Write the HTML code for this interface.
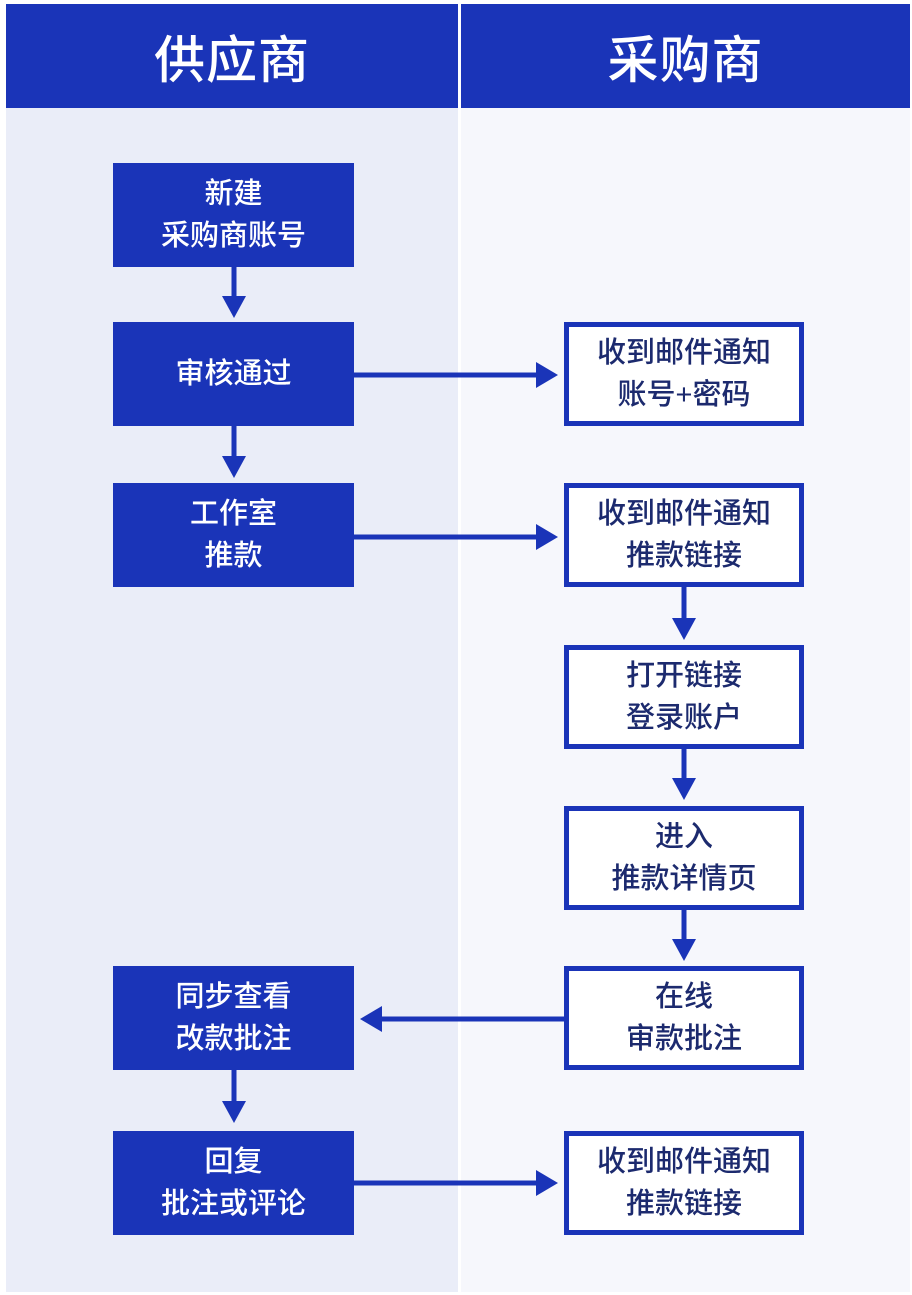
<!DOCTYPE html>
<html><head><meta charset="utf-8"><style>
body{margin:0;width:912px;height:1295px;background:#fff;position:relative;overflow:hidden;font-family:"Liberation Sans","Noto Sans CJK SC",sans-serif}
.a{position:absolute}
.hd{background:#1a34b8;color:#fff;font-size:51px;font-weight:500;display:flex;align-items:center;justify-content:center;letter-spacing:1px}
.b{position:absolute;box-sizing:border-box;display:flex;flex-direction:column;align-items:center;justify-content:center;font-size:29px;line-height:42px;font-weight:500}
.l{left:113px;width:241px;background:#1a34b8;color:#fff}
.r{left:564px;width:240px;background:#fff;border:5px solid #1a34b8;color:#1c2a6e}
</style></head><body>
<div class="a" style="left:6px;top:108px;width:452px;height:1184px;background:#eaedf8"></div>
<div class="a" style="left:461px;top:108px;width:449px;height:1184px;background:#f6f7fc"></div>
<div class="a hd" style="left:6px;top:4px;width:452px;height:104px">供应商</div>
<div class="a hd" style="left:461px;top:4px;width:449px;height:104px">采购商</div>

<div class="b l" style="top:163px;height:104px">新建<span>采购商账号</span></div>
<div class="b l" style="top:322px;height:104px">审核通过</div>
<div class="b l" style="top:483px;height:104px">工作室<span>推款</span></div>
<div class="b l" style="top:966px;height:104px">同步查看<span>改款批注</span></div>
<div class="b l" style="top:1131px;height:104px">回复<span>批注或评论</span></div>

<div class="b r" style="top:322px;height:104px">收到邮件通知<span>账号+密码</span></div>
<div class="b r" style="top:483px;height:104px">收到邮件通知<span>推款链接</span></div>
<div class="b r" style="top:645px;height:104px">打开链接<span>登录账户</span></div>
<div class="b r" style="top:806px;height:104px">进入<span>推款详情页</span></div>
<div class="b r" style="top:966px;height:104px">在线<span>审款批注</span></div>
<div class="b r" style="top:1131px;height:104px">收到邮件通知<span>推款链接</span></div>

<svg class="a" style="left:0;top:0" width="912" height="1295">
<g fill="#1a34b8" stroke="#1a34b8" stroke-width="5">
<line x1="234" y1="267" x2="234" y2="298"/><polygon stroke="none" points="222,296 246,296 234,318"/>
<line x1="234" y1="426" x2="234" y2="458"/><polygon stroke="none" points="222,456 246,456 234,478"/>
<line x1="234" y1="1070" x2="234" y2="1103"/><polygon stroke="none" points="222,1101 246,1101 234,1123"/>
<line x1="684" y1="587" x2="684" y2="620"/><polygon stroke="none" points="672,618 696,618 684,640"/>
<line x1="684" y1="749" x2="684" y2="780"/><polygon stroke="none" points="672,778 696,778 684,800"/>
<line x1="684" y1="910" x2="684" y2="941"/><polygon stroke="none" points="672,939 696,939 684,961"/>
<line x1="354" y1="375" x2="538" y2="375"/><polygon stroke="none" points="536,362 536,388 558,375"/>
<line x1="354" y1="537" x2="538" y2="537"/><polygon stroke="none" points="536,524 536,550 558,537"/>
<line x1="354" y1="1183" x2="538" y2="1183"/><polygon stroke="none" points="536,1170 536,1196 558,1183"/>
<line x1="564" y1="1019" x2="380" y2="1019"/><polygon stroke="none" points="382,1006 382,1032 360,1019"/>
</g></svg>
</body></html>
